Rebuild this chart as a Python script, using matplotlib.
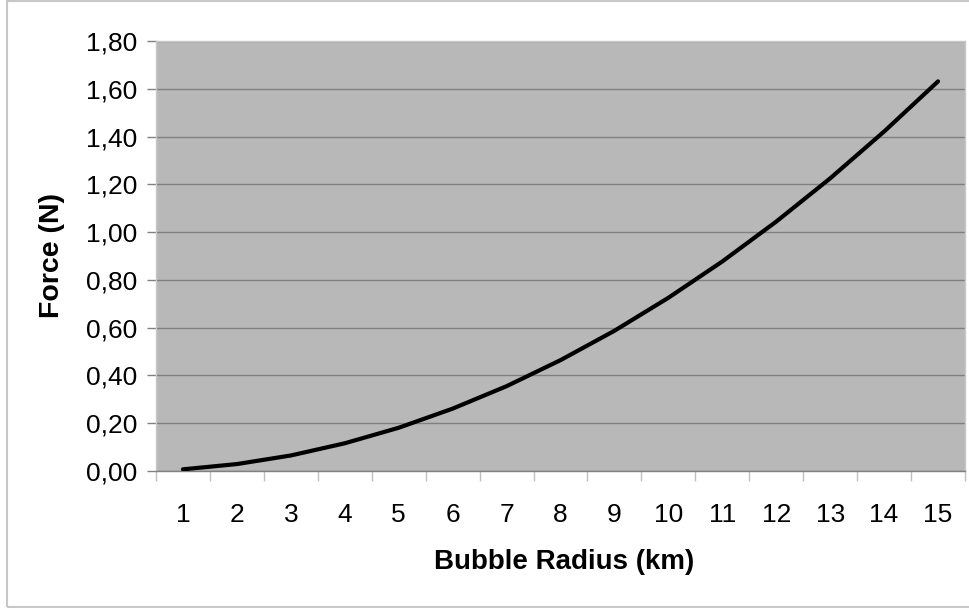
import matplotlib
matplotlib.use("Agg")
import matplotlib.pyplot as plt
from matplotlib.patches import Rectangle
from matplotlib.ticker import FuncFormatter, FixedLocator

# bubble radius (km) vs force (N)
radius_km = [1, 2, 3, 4, 5, 6, 7, 8, 9, 10, 11, 12, 13, 14, 15]
force_n = [0.007, 0.029, 0.065, 0.116, 0.181, 0.261, 0.355, 0.464,
           0.587, 0.725, 0.877, 1.044, 1.225, 1.421, 1.631]
y_ticks = [0.0, 0.2, 0.4, 0.6, 0.8, 1.0, 1.2, 1.4, 1.6, 1.8]

plt.rcParams["font.family"] = ["Liberation Sans", "DejaVu Sans"]

fig = plt.figure(figsize=(9.7, 6.08), dpi=100)
fig.patches.append(Rectangle((7 / 970, 1 / 608), 1.0, 606 / 608, transform=fig.transFigure,
                             fill=False, edgecolor="#c8c8c8", linewidth=1.5, clip_on=False))

ax = fig.add_axes([156 / 970, 1 - 471 / 608, 809 / 970, 430 / 608])
ax.set_facecolor("#b8b8b8")

pos = list(range(len(radius_km)))
ax.plot(pos, force_n, color="black", linewidth=3.0, solid_capstyle="round", zorder=3)

ax.set_xlim(-0.5, len(radius_km) - 0.5)
ax.set_ylim(0, 1.8)

# y axis
ax.set_yticks(y_ticks)
ax.yaxis.set_major_formatter(FuncFormatter(lambda v, _: f"{v:.2f}".replace(".", ",")))
ax.tick_params(axis="y", length=6.5, width=1, color="#808080", pad=7, labelsize=19)
ax.grid(axis="y", color="#808080", linewidth=1)

# x axis: labels at centres, tick marks between categories
ax.set_xticks(pos)
ax.set_xticklabels([str(r) for r in radius_km])
ax.tick_params(axis="x", which="major", length=0, pad=23, labelsize=19)
ax.xaxis.set_minor_locator(FixedLocator([p - 0.5 for p in pos] + [pos[-1] + 0.5]))
ax.tick_params(axis="x", which="minor", length=7.5, width=1, color="#c0c0c0")

for side in ["top", "left", "right"]:
    ax.spines[side].set_color("#c8c8c8")
    ax.spines[side].set_linewidth(1)
ax.spines["bottom"].set_color("#808080")
ax.spines["bottom"].set_linewidth(1)

ax.set_xlabel("Bubble Radius (km)", fontsize=20, fontweight="bold")
ax.xaxis.set_label_coords(0.505, -0.182)
ax.set_ylabel("Force (N)", fontsize=20.5, fontweight="bold")
ax.yaxis.set_label_coords(-0.112, 0.5)

fig.savefig("out.png", dpi=100)
plt.close(fig)
